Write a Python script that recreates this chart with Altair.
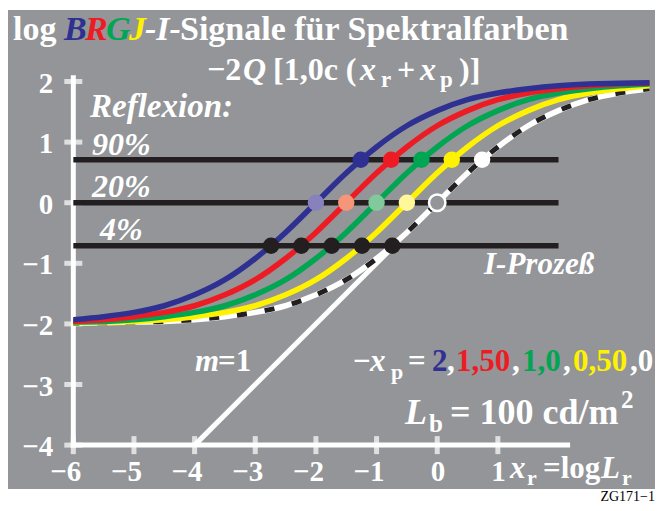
import altair as alt
import pandas as pd

# ---------------- data ----------------
x_grid = [-6.0, -5.5, -5.0, -4.5, -4.0, -3.5, -3.0, -2.5, -2.0, -1.5,
          -1.0, -0.5, 0.0, 0.5, 1.0, 1.5, 2.0, 2.5, 3.0, 3.5]
y_white = [-1.99, -1.98, -1.97, -1.96, -1.93, -1.88, -1.81, -1.70, -1.52, -1.27,
           -0.92, -0.49, 0.00, 0.49, 0.92, 1.27, 1.52, 1.70, 1.81, 1.88]
y_yellow = [-1.98, -1.97, -1.96, -1.93, -1.88, -1.81, -1.70, -1.52, -1.27, -0.92,
            -0.49, 0.00, 0.49, 0.92, 1.27, 1.52, 1.70, 1.81, 1.88, 1.93]
y_green = [-1.97, -1.96, -1.93, -1.88, -1.81, -1.70, -1.52, -1.27, -0.92, -0.49,
           0.00, 0.49, 0.92, 1.27, 1.52, 1.70, 1.81, 1.88, 1.93, 1.96]
y_red = [-1.96, -1.93, -1.88, -1.81, -1.70, -1.52, -1.27, -0.92, -0.49, 0.00,
         0.49, 0.92, 1.27, 1.52, 1.70, 1.81, 1.88, 1.93, 1.96, 1.97]
y_blue = [-1.93, -1.88, -1.81, -1.70, -1.52, -1.27, -0.92, -0.49, 0.00, 0.49,
          0.92, 1.27, 1.52, 1.70, 1.81, 1.88, 1.93, 1.96, 1.97, 1.98]

# drawing order: white first, blue on top
series_names = ["weiss", "gelb", "gruen", "rot", "blau"]
series_values = [y_white, y_yellow, y_green, y_red, y_blue]
series_colors = ["#ffffff", "#fff200", "#00a651", "#ed1c24", "#2e3192"]

# m = 1 reference line
m1_x = [-4.0, -0.75]
m1_y = [-4.0, -0.75]

# reflexion levels (90 %, 20 %, 4 %)
refl_y = [0.71, 0.0, -0.71]
refl_x_from = [-6.0, -6.0, -6.0]
refl_x_to = [2.0, 2.0, 2.0]

# dots on the reflexion lines
dots_x_90 = [-1.26, -0.76, -0.26, 0.24, 0.74]
dots_x_20 = [-2.0, -1.5, -1.0, -0.5, 0.0]
dots_x_4 = [-2.74, -2.24, -1.74, -1.24, -0.74]
dots_col_90 = ["#2e3192", "#ed1c24", "#00a651", "#fff200", "#ffffff"]
dots_col_20 = ["#8781bd", "#f69679", "#82ca9c", "#fff799", "#939598"]
dots_col_4 = ["#231f20", "#231f20", "#231f20", "#231f20", "#231f20"]

x_ticks = [-6, -5, -4, -3, -2, -1, 0, 1]
x_tick_labels = ["\u22126", "\u22125", "\u22124", "\u22123", "\u22122", "\u22121", "0", "1"]
y_ticks = [2, 1, 0, -1, -2, -3, -4]
y_tick_labels = ["2", "1", "0", "\u22121", "\u22122", "\u22123", "\u22124"]

# ---------------- layout ----------------
GREY = "#939598"
FONT = "Liberation Serif"
VIEW_W, VIEW_H = 647, 479
PAD_TOP = 2
X = alt.Scale(domain=[-7.077, 3.591], nice=False, zero=False)
Y = alt.Scale(domain=[-4.724, 3.180], nice=False, zero=False)


def xq(field):
    return alt.X(field, type="quantitative", scale=X, axis=None)


def yq(field):
    return alt.Y(field, type="quantitative", scale=Y, axis=None)


layers = []

# axes
axis_df = pd.DataFrame({"x": [-6, -6], "x2": [2.15, -6], "y": [-4, -4], "y2": [-4, 2.06]})
layers.append(alt.Chart(axis_df).mark_rule(color="white", strokeWidth=5, strokeCap="square").encode(
    x=xq("x"), x2="x2", y=yq("y"), y2="y2"))
layers.append(alt.Chart(pd.DataFrame({"x": x_ticks})).mark_tick(
    color="white", orient="vertical", size=18, thickness=5).encode(x=xq("x"), y=alt.Y(datum=-4, scale=Y, axis=None)))
layers.append(alt.Chart(pd.DataFrame({"y": y_ticks})).mark_tick(
    color="white", orient="horizontal", size=18, thickness=5).encode(y=yq("y"), x=alt.X(datum=-6, scale=X, axis=None)))

# tick labels
layers.append(alt.Chart(pd.DataFrame({"x": x_ticks, "t": x_tick_labels})).mark_text(
    font=FONT, fontSize=29, fontWeight="bold", color="white", align="right", baseline="alphabetic",
    dx=8, dy=36).encode(x=xq("x"), y=alt.Y(datum=-4, scale=Y, axis=None), text="t:N"))
layers.append(alt.Chart(pd.DataFrame({"y": y_ticks, "t": y_tick_labels})).mark_text(
    font=FONT, fontSize=29, fontWeight="bold", color="white", align="right", baseline="alphabetic",
    dx=-20, dy=11).encode(y=yq("y"), x=alt.X(datum=-6, scale=X, axis=None), text="t:N"))

# m = 1 line
layers.append(alt.Chart(pd.DataFrame({"x": m1_x, "y": m1_y})).mark_line(
    color="white", strokeWidth=5).encode(x=xq("x"), y=yq("y")))

# reflexion lines
layers.append(alt.Chart(pd.DataFrame({"x": refl_x_from, "x2": refl_x_to, "y": refl_y})).mark_rule(
    color="#231f20", strokeWidth=5.5).encode(x=xq("x"), x2="x2", y=yq("y")))

# curves
for i, (name, vals, col) in enumerate(zip(series_names, series_values, series_colors)):
    df = pd.DataFrame({"x": x_grid, "y": vals})
    layers.append(alt.Chart(df).mark_line(color=col, strokeWidth=5.5, interpolate="monotone").encode(
        x=xq("x"), y=yq("y")))
    if name == "weiss":
        layers.append(alt.Chart(df).mark_line(color="#231f20", strokeWidth=5, interpolate="monotone",
                                              strokeDash=[10, 18], strokeDashOffset=4).encode(
            x=xq("x"), y=yq("y")))

# dots
dot_df = pd.DataFrame({
    "x": dots_x_90 + dots_x_20 + dots_x_4,
    "y": [refl_y[0]] * 5 + [refl_y[1]] * 5 + [refl_y[2]] * 5,
    "c": dots_col_90 + dots_col_20 + dots_col_4,
    "s": ["none"] * 9 + ["white"] + ["none"] * 5,
})
layers.append(alt.Chart(dot_df).mark_point(filled=True, opacity=1, size=270, strokeWidth=2.5, shape="circle").encode(
    x=xq("x"), y=yq("y"),
    fill=alt.Fill("c:N", scale=None), stroke=alt.Stroke("s:N", scale=None)))

# annotations: (text, page x, page baseline y, size, color, italic, align)
W = "white"
annotations = [
    ("log", 13, 40, 34, W, False, "left"),
    ("B", 64, 40, 34, "#2e3192", True, "left"),
    ("R", 85, 40, 34, "#ed1c24", True, "left"),
    ("G", 106, 40, 34, "#00a651", True, "left"),
    ("J", 129, 40, 34, "#fff200", True, "left"),
    ("-I-", 145, 40, 34, W, True, "left"),
    ("Signale f\u00fcr Spektralfarben", 180, 40, 34, W, False, "left"),
    ("\u22122", 207, 80, 32, W, False, "left"),
    ("Q", 243, 80, 32, W, True, "left"),
    ("[1,0c (", 273, 80, 32, W, False, "left"),
    ("x", 360, 80, 32, W, True, "left"),
    ("r", 381, 87, 23, W, False, "left"),
    ("+", 397, 80, 32, W, False, "left"),
    ("x", 420, 80, 32, W, True, "left"),
    ("p", 440, 87, 23, W, False, "left"),
    (")]", 459, 80, 32, W, False, "left"),
    ("Reflexion:", 90, 117, 33, W, True, "left"),
    ("90%", 92, 155, 32, W, True, "left"),
    ("20%", 92, 197, 32, W, True, "left"),
    ("4%", 100, 240, 32, W, True, "left"),
    ("I-Proze\u00df", 484, 274, 31, W, True, "left"),
    ("m", 195, 371, 31, W, True, "left"),
    ("=1", 218, 371, 31, W, False, "left"),
    ("\u2212", 353, 371, 31, W, False, "left"),
    ("x", 370, 371, 31, W, True, "left"),
    ("p", 391, 379, 22, W, False, "left"),
    ("=", 408, 371, 31, W, False, "left"),
    ("2", 432, 371, 31, "#2e3192", False, "left"),
    (",", 447, 371, 31, W, False, "left"),
    ("1,50", 456, 371, 31, "#ed1c24", False, "left"),
    (",", 512, 371, 31, W, False, "left"),
    ("1,0", 522, 371, 31, "#00a651", False, "left"),
    (",", 563, 371, 31, W, False, "left"),
    ("0,50", 573, 371, 31, "#fff200", False, "left"),
    (",0", 630, 371, 31, W, False, "left"),
    ("L", 405, 424, 36, W, True, "left"),
    ("b", 429, 432, 25, W, False, "left"),
    ("= 100 cd/m", 450, 424, 36, W, False, "left"),
    ("2", 621, 408, 25, W, False, "left"),
    ("x", 510, 478, 31, W, True, "left"),
    ("r", 527, 485, 22, W, False, "left"),
    ("=log", 543, 478, 31, W, False, "left"),
    ("L", 601, 478, 31, W, True, "left"),
    ("r", 622, 485, 22, W, False, "left"),
]
for (t, px, py, size, col, italic, align) in annotations:
    layers.append(alt.Chart(pd.DataFrame({"t": [t]})).mark_text(
        font=FONT, fontSize=size, fontWeight="bold", fontStyle="italic" if italic else "normal",
        color=col, align=align, baseline="alphabetic").encode(
        text="t:N", x=alt.value(px - 8), y=alt.value(py - 8 - PAD_TOP)))

# figure id below the grey panel
layers.append(alt.Chart(pd.DataFrame({"t": ["ZG171\u22121"]})).mark_text(
    font=FONT, fontSize=14, color="black", align="right", baseline="alphabetic").encode(
    text="t:N", x=alt.value(655 - 8), y=alt.value(501 - 8 - PAD_TOP)))

chart = alt.layer(*layers).properties(
    width=VIEW_W, height=VIEW_H,
    padding={"left": 0, "top": PAD_TOP, "right": 0, "bottom": 16},
    autosize=alt.AutoSizeParams(type="none"),
    background="white",
).configure_view(fill=GREY, stroke=None)

chart.save("out.html", embed_options={"renderer": "svg", "actions": False})
